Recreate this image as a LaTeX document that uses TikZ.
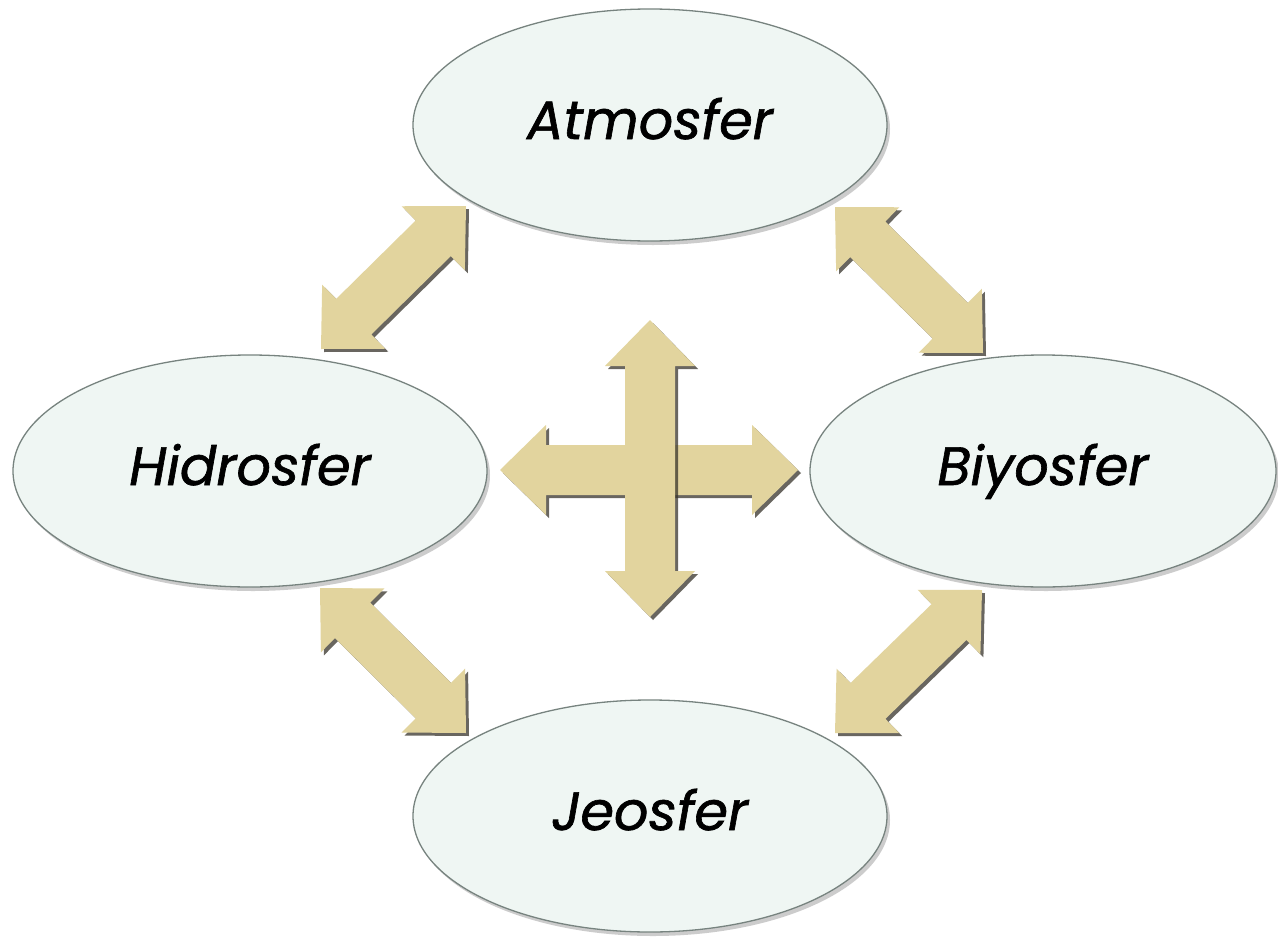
\documentclass[tikz,border=0pt]{standalone}
\usepackage{fontspec}
\newfontfamily\lblfont{Poppins}[ItalicFeatures={FakeBold=1.2}]
\usetikzlibrary{shapes.geometric,calc,shadows}
\definecolor{arrfill}{HTML}{E2D49E}
\definecolor{ellfill}{HTML}{EFF6F3}
\definecolor{elldraw}{HTML}{77837F}
\tikzset{
  sphere/.style={ellipse, inner sep=0pt, minimum width=474pt, minimum height=232pt,
    fill=ellfill, draw=elldraw, line width=1.3pt,
    text height=28pt, text depth=0pt,
    drop shadow={opacity=0.4, shadow xshift=3pt, shadow yshift=-4pt},
    font=\lblfont\itshape\fontsize{54}{60}\selectfont},
  arr/.style={fill=arrfill,
    drop shadow={opacity=0.75, fill=black!80!olive, shadow xshift=3pt, shadow yshift=-3pt}}
}
\newcommand\hl{46pt}
\newcommand\hw{45pt}
\newcommand\sw{25pt}
\newcommand\blockarrow[2]{%
  \path[arr] (#1)
   -- ($(#1)!\hl!(#2)!\hw!90:(#2)$)
   -- ($(#1)!\hl!(#2)!\sw!90:(#2)$)
   -- ($(#2)!\hl!(#1)!\sw!-90:(#1)$)
   -- ($(#2)!\hl!(#1)!\hw!-90:(#1)$)
   -- (#2)
   -- ($(#2)!\hl!(#1)!\hw!90:(#1)$)
   -- ($(#2)!\hl!(#1)!\sw!90:(#1)$)
   -- ($(#1)!\hl!(#2)!\sw!-90:(#2)$)
   -- ($(#1)!\hl!(#2)!\hw!-90:(#2)$)
   -- cycle;}
\begin{document}
\begin{tikzpicture}[x=1pt,y=-1pt]
\useasboundingbox[fill=white] (0,0) rectangle (1278,937);
% arrow end points
\coordinate (tl1) at (321,349); \coordinate (tl2) at (466,206);
\coordinate (tr1) at (835,207); \coordinate (tr2) at (983,353);
\coordinate (bl1) at (320,588); \coordinate (bl2) at (466,733);
\coordinate (br1) at (835,733); \coordinate (br2) at (982,590);
\coordinate (hx1) at (500,470); \coordinate (hx2) at (798,470);
\coordinate (vy1) at (650,320); \coordinate (vy2) at (650,617);
\blockarrow{tl1}{tl2}
\blockarrow{tr1}{tr2}
\blockarrow{bl1}{bl2}
\blockarrow{br1}{br2}
\blockarrow{hx1}{hx2}
\blockarrow{vy1}{vy2}
% spheres
\node[sphere] (atm) at (650,125) {Atmosfer};
\node[sphere] (hid) at (250,471) {Hidrosfer};
\node[sphere, minimum width=466pt] (biy) at (1043,471) {Biyosfer};
\node[sphere] (jeo) at (650,816) {Jeosfer};
\end{tikzpicture}
\end{document}
